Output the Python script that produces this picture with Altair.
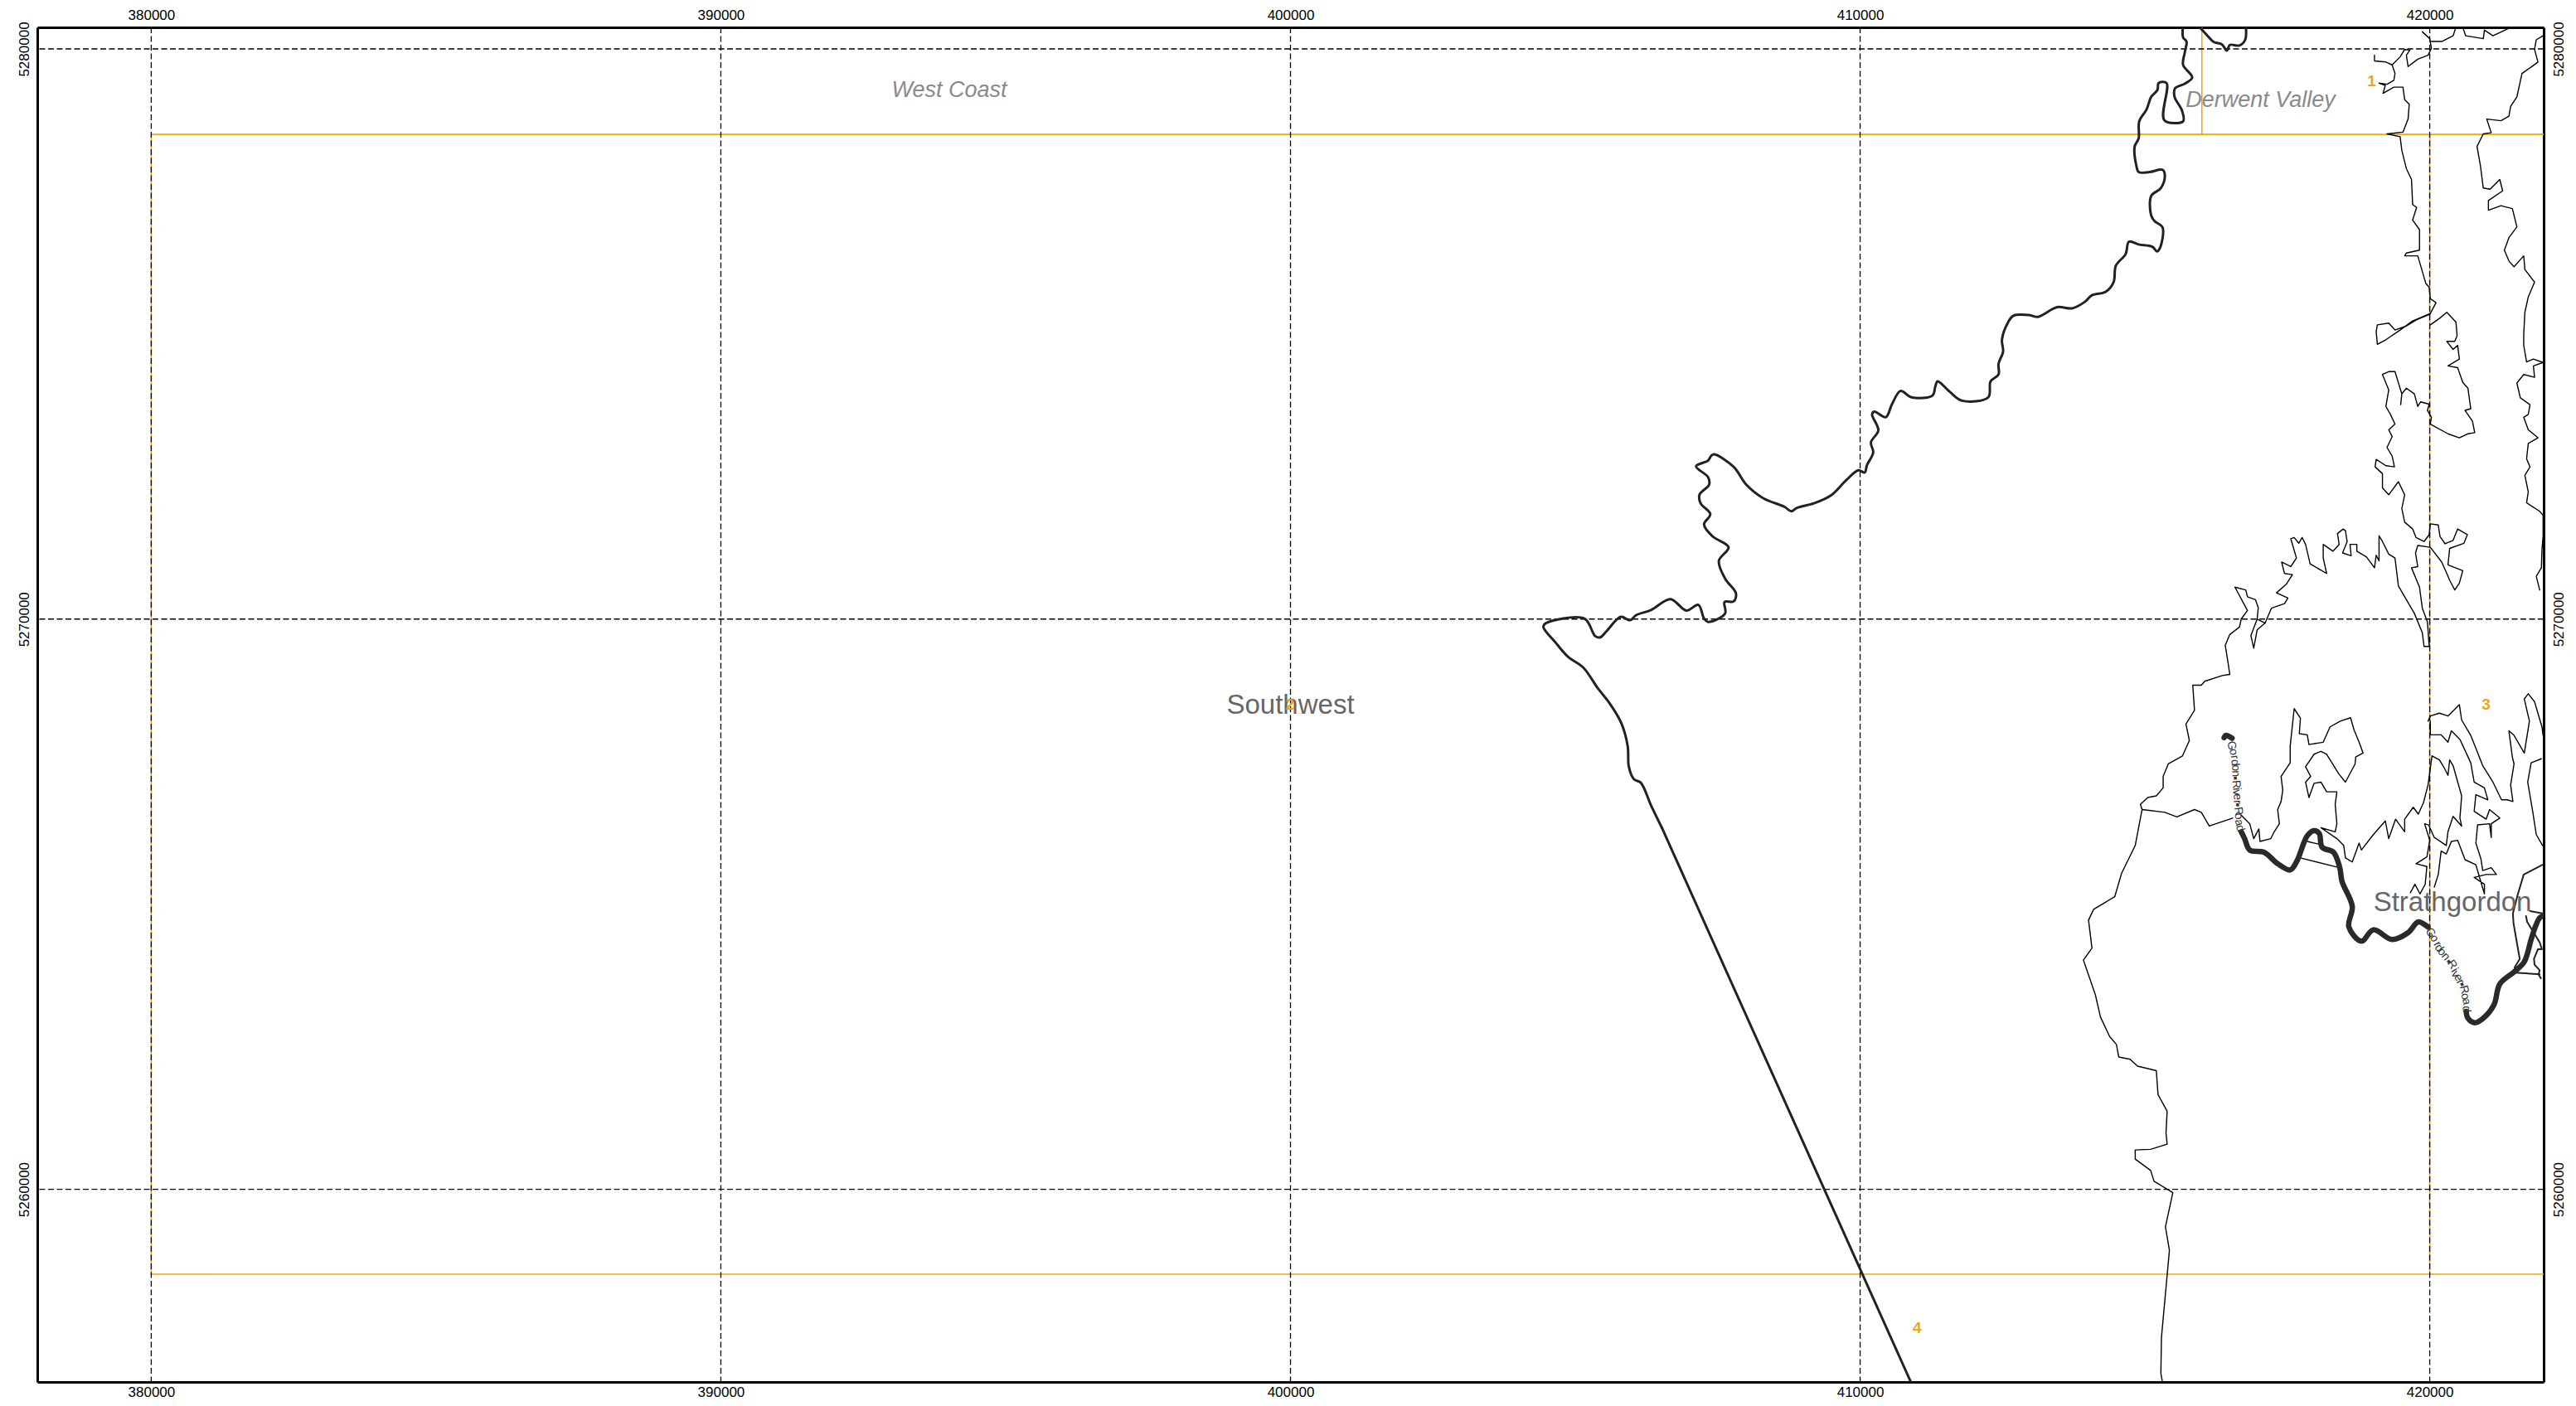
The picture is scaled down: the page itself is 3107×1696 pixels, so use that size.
import altair as alt
import pandas as pd

X_TICKS = [380000, 390000, 400000, 410000, 420000]
Y_TICKS = [5260000, 5270000, 5280000]
X_DOMAIN = [378000, 422000]
Y_DOMAIN = [5256620, 5280378]

# Map lines: (easting km, northing km)
ZONE_LINES = [
    [(380, 5258.51), (380, 5278.50), (422, 5278.50)],
    [(380, 5258.51), (422, 5258.51)],
    [(420, 5278.50), (420, 5258.51)],
    [(416, 5280.5), (416, 5278.50)],
]

BOUNDARY_TOP = [(415.98,5280.36),(416.10,5280.23),(416.21,5280.12),(416.35,5280.08),(416.44,5279.97),(416.49,5280.07),(416.66,5280.06),(416.76,5280.16),(416.77,5280.42)]

BOUNDARY_MAIN = [
 (415.67,5280.42),(415.67,5280.20),(415.73,5280.13),(415.70,5279.94),(415.67,5279.72),(415.83,5279.50),(415.70,5279.39),(415.53,5279.31),(415.52,5279.16),(415.65,5278.92),(415.67,5278.73),(415.34,5278.75),(415.38,5279.40),(415.24,5279.40),(415.22,5279.28),(415.11,5279.16),(415.03,5278.94),(414.90,5278.73),(414.89,5278.43),(414.82,5278.29),(414.85,5277.95),(414.89,5277.84),(415.08,5277.84),(415.31,5277.88),(415.35,5277.78),(415.28,5277.56),(415.11,5277.42),(415.11,5277.08),(415.17,5276.98),(415.31,5276.87),(415.26,5276.50),(415.21,5276.45),(415.13,5276.53),(414.89,5276.57),(414.72,5276.62),(414.66,5276.40),(414.49,5276.20),(414.45,5275.91),
 (414.31,5275.74),(414.07,5275.68),(413.94,5275.56),(413.72,5275.45),(413.46,5275.47),(413.12,5275.30),(412.98,5275.33),(412.69,5275.32),(412.60,5275.21),(412.49,5274.90),(412.51,5274.69),(412.43,5274.48),(412.43,5274.29),(412.29,5274.17),(412.25,5273.89),(411.79,5273.83),(411.57,5273.99),(411.36,5274.17),(411.32,5274.08),(411.27,5273.92),(410.90,5273.89),(410.71,5274.00),(410.56,5273.77),(410.45,5273.54),(410.25,5273.64),(410.21,5273.59),(410.32,5273.31),(410.19,5273.10),(410.23,5272.92),(410.12,5272.70),(410.08,5272.57),(409.97,5272.61),(409.75,5272.43),(409.49,5272.17),(409.19,5272.03),(408.89,5271.95),(408.79,5271.89),(408.67,5271.97),(408.30,5272.12),(408.00,5272.36),(407.78,5272.67),(407.44,5272.89),(407.39,5272.87),(407.33,5272.78),(407.12,5272.68),(407.33,5272.49),(407.35,5272.36),(407.18,5272.18),(407.20,5272.03),(407.37,5271.84),(407.26,5271.66),(407.41,5271.45),(407.69,5271.26),(407.52,5271.02),(407.63,5270.71),(407.82,5270.45),(407.78,5270.31),(407.62,5270.30),(407.63,5270.10),(407.33,5269.95),(407.26,5270.01),(407.16,5270.25),(406.95,5270.15),(406.67,5270.35),(406.33,5270.16),(406.07,5270.07),(405.96,5269.98),(405.80,5270.04),(405.55,5269.79),(405.44,5269.68),(405.35,5269.70),(405.16,5270.01),(404.47,5269.92),(404.44,5269.86),(404.66,5269.58),(404.87,5269.34),(405.14,5269.15),(405.40,5268.78),(405.59,5268.54),(405.81,5268.17),(405.92,5267.77),(405.94,5267.41),(406.03,5267.19),(406.15,5267.13),(406.33,5266.73),(406.52,5266.34)]

BOUNDARY_STRAIGHT = [(406.52,5266.34),(410.89,5256.62)]

ROAD_WEST = [(416.69,5266.27),(416.75,5266.15),(416.84,5265.95),(417.09,5265.91),(417.33,5265.71),(417.55,5265.60),(417.67,5265.76),(417.85,5266.20),(417.97,5266.29),(418.06,5266.24),(418.11,5266.00),(418.31,5265.91),(418.42,5265.64),(418.46,5265.40),(418.64,5264.96),(418.58,5264.60),(418.80,5264.35),(419.01,5264.55),(419.34,5264.38),(419.62,5264.50),(419.80,5264.69),(419.97,5264.60)]
ROAD_EAST = [(420.64,5263.12),(420.67,5263.00),(420.79,5262.92),(420.94,5263.00),(421.13,5263.24),(421.23,5263.60),(421.49,5263.82),(421.66,5263.99),(421.78,5264.38),(421.86,5264.62),(421.93,5264.76),(421.99,5264.80),(422.2,5264.85)]
ROAD_STUB = [(416.39,5267.92),(416.42,5267.96),(416.53,5267.91)]

MINOR_DARK = [
 [(421.98,5265.69),(421.65,5265.52),(421.54,5265.15),(421.46,5264.84),(421.47,5264.67),(421.52,5264.38),(421.58,5264.04),(421.49,5263.89),(421.49,5263.80),(421.93,5263.77)],
 [(421.76,5264.88),(421.98,5264.84)],
 [(421.69,5264.79),(421.71,5264.69),(421.93,5264.33),(421.97,5264.21),(421.90,5264.21),(421.83,5264.04),(421.84,5263.94),(421.93,5263.84),(421.91,5263.77),(421.95,5263.70)],
]

CREEK_1 = [(419.87,5280.30),(420.00,5280.18),(420.03,5280.01),(419.97,5279.89),(419.79,5279.82),(419.62,5279.69),(419.59,5279.89),(419.65,5279.98),(419.56,5279.99),(419.48,5279.86),(419.34,5279.72),(419.23,5279.77),(419.03,5279.79),(419.03,5279.89)]
CREEK_2 = [(419.34,5279.72),(419.39,5279.57),(419.37,5279.45),(419.25,5279.38),(419.11,5279.40),(419.22,5279.36),(419.18,5279.22),(419.37,5279.33),(419.53,5279.33),(419.56,5279.11),(419.64,5279.03),(419.62,5278.77),(419.53,5278.54),(419.25,5278.51),(419.48,5278.46),(419.51,5278.22),(419.59,5277.90),(419.68,5277.71),(419.70,5277.27),(419.77,5277.22),(419.70,5277.00),(419.82,5276.83),(419.82,5276.47),(419.59,5276.42),(419.56,5276.37),(419.79,5276.37),(419.84,5276.20),(419.93,5275.89),(419.99,5275.82),(420.01,5275.62),(420.11,5275.55),(420.01,5275.36),(419.70,5275.23),(419.48,5275.07),(419.23,5274.90),(419.08,5274.82),(419.06,5275.04),(419.08,5275.16),(419.28,5275.19),(419.39,5275.07),(419.59,5275.14),(419.79,5275.26),(420.01,5275.35)]
CREEK_3 = [(420.03,5280.13),(420.21,5280.13),(420.41,5280.23),(420.46,5280.38)]
CREEK_4 = [(420.58,5280.38),(420.63,5280.23),(420.94,5280.18),(420.96,5280.33),(421.11,5280.23),(421.39,5280.36)]
CREEK_5 = [(421.99,5280.23),(421.87,5280.16),(421.84,5279.99),(421.90,5279.77),(421.79,5279.69),(421.62,5279.57),(421.53,5279.16),(421.42,5278.99),(421.39,5278.82),(421.25,5278.74),(421.00,5278.77),(421.08,5278.53),(420.94,5278.51),(420.83,5278.29),(420.89,5277.95),(420.94,5277.56),(421.06,5277.54),(421.23,5277.71),(421.28,5277.51),(421.03,5277.34),(421.03,5277.17),(421.25,5277.25),(421.45,5277.20),(421.53,5276.88),(421.39,5276.69),(421.31,5276.47),(421.39,5276.28),(421.48,5276.18),(421.65,5276.37),(421.67,5276.13),(421.84,5275.91),(421.73,5275.65),(421.67,5275.38),(421.65,5274.99),(421.65,5274.80),(421.70,5274.51),(421.82,5274.56),(421.99,5274.50),(421.82,5274.44),(421.84,5274.24),(421.65,5274.29),(421.53,5274.14),(421.59,5273.88),(421.76,5273.76),(421.73,5273.59),(421.65,5273.54),(421.73,5273.32),(421.90,5273.18),(421.73,5273.08),(421.70,5272.81),(421.76,5272.67),(421.67,5272.52),(421.73,5272.23),(421.70,5272.04),(421.93,5271.89),(421.99,5271.82),(421.99,5271.46),(421.97,5271.21),(421.96,5270.90),(421.87,5270.75),(421.93,5270.51)]
CREEK_6 = [(420.01,5275.16),(420.18,5275.28),(420.30,5275.38),(420.46,5275.21),(420.48,5274.97),(420.44,5274.87),(420.30,5274.87),(420.41,5274.73),(420.49,5274.80),(420.52,5274.56),(420.32,5274.44),(420.49,5274.41),(420.58,5274.15),(420.67,5274.05),(420.72,5273.69),(420.62,5273.66),(420.75,5273.47),(420.79,5273.27),(420.67,5273.25),(420.52,5273.18),(420.32,5273.25),(420.01,5273.42),(420.03,5273.54),(419.96,5273.66),(419.99,5273.77),(419.84,5273.81),(419.79,5273.73),(419.73,5273.95),(419.59,5274.05),(419.51,5273.95),(419.49,5273.76),(419.51,5273.95),(419.39,5274.34),(419.28,5274.34),(419.17,5274.29),(419.28,5274.02),(419.23,5273.73),(419.31,5273.59),(419.39,5273.42),(419.28,5273.32),(419.34,5273.20),(419.25,5273.01),(419.34,5272.86),(419.38,5272.67),(419.23,5272.69),(419.06,5272.80),(419.04,5272.67),(419.17,5272.55),(419.17,5272.30),(419.28,5272.18),(419.45,5272.41),(419.56,5272.18),(419.51,5271.94),(419.56,5271.70),(419.70,5271.58),(419.76,5271.43),(419.90,5271.36),(419.99,5271.48),(420.01,5271.67),(420.15,5271.65),(420.18,5271.45),(420.27,5271.32),(420.41,5271.38),(420.49,5271.58),(420.66,5271.48),(420.60,5271.33),(420.35,5271.24),(420.32,5270.95),(420.58,5270.85),(420.52,5270.63),(420.44,5270.51),(420.35,5270.68),(420.30,5270.80),(420.21,5271.00),(420.01,5271.26),(419.79,5271.29),(419.75,5271.16),(419.79,5270.92),(419.68,5270.90),(419.82,5270.56),(419.87,5270.19),(419.96,5269.95),(419.99,5269.52),(419.90,5269.52),(419.87,5269.76),(419.73,5270.10),(419.45,5270.58),(419.39,5271.07),(419.28,5271.14),(419.17,5271.36),(419.11,5271.46),(419.11,5271.02),(419.06,5271.12),(419.03,5270.90),(418.89,5271.09),(418.72,5271.19),(418.72,5271.31),(418.60,5271.31),(418.62,5271.11),(418.47,5271.16),(418.55,5271.36),(418.52,5271.55),(418.48,5271.58),(418.38,5271.50),(418.41,5271.31),(418.30,5271.19),(418.13,5271.31),(418.13,5271.07),(418.19,5270.80),(417.90,5270.97),(417.82,5271.31),(417.76,5271.43),(417.70,5271.33),(417.62,5271.43),(417.56,5271.41),(417.66,5271.07),(417.56,5270.92),(417.40,5271.00),(417.45,5270.80),(417.59,5270.78),(417.48,5270.61),(417.31,5270.46),(417.51,5270.37),(417.45,5270.27),(417.22,5270.19),(417.11,5269.93),(416.97,5270.00),(416.99,5270.20),(416.94,5270.34),(416.80,5270.39),(416.77,5270.51),(416.58,5270.56),(416.80,5270.15),(416.69,5270.00),(416.66,5269.86),(416.49,5269.73),(416.41,5269.54),(416.46,5269.23)]
CREEK_LOBE = [(416.97,5270.00),(416.86,5269.71),(416.91,5269.49),(416.97,5269.81),(417.11,5269.93)]
WATERSHED = [(416.46,5269.23),(416.49,5269.03),(416.36,5269.01),(416.05,5268.91),(415.99,5268.84),(415.84,5268.84),(415.87,5268.40),(415.72,5268.16),(415.78,5267.87),(415.66,5267.60),(415.41,5267.46),(415.32,5267.24),(415.32,5267.04),(415.20,5266.90),(415.05,5266.87),(414.92,5266.75),(414.95,5266.66),(414.83,5266.03),(414.59,5265.54),(414.47,5265.13),(414.10,5264.91),(414.01,5264.72),(414.07,5264.23),(413.92,5264.02),(414.13,5263.41),(414.22,5263.02),(414.38,5262.68),(414.50,5262.54),(414.54,5262.32),(414.74,5262.28),(414.87,5262.16),(415.20,5262.08),(415.23,5261.66),(415.39,5261.37),(415.37,5260.99),(415.39,5260.79),(415.10,5260.70),(414.83,5260.69),(414.83,5260.53),(415.10,5260.33),(415.16,5260.14),(415.49,5259.94),(415.36,5259.34),(415.43,5258.93),(415.29,5257.40),(415.28,5256.77),(415.31,5256.60)]
BRANCH = [(414.95,5266.66),(415.35,5266.61),(415.56,5266.53),(415.87,5266.66),(415.99,5266.61),(416.13,5266.37),(416.54,5266.51)]
LINK_1 = [(417.85,5266.10),(418.06,5266.05)]
LINK_2 = [(417.73,5265.81),(418.37,5265.65)]
CREEK_7 = [(416.69,5266.56),(416.84,5266.41),(416.91,5266.15),(417.00,5266.32),(417.02,5266.10),(417.21,5266.15),(417.27,5266.27),(417.36,5266.41),(417.33,5266.66),(417.39,5266.80),(417.42,5267.00),(417.39,5267.24),(417.55,5267.48),(417.55,5267.77),(417.62,5268.43),(417.73,5268.26),(417.71,5267.99),(417.85,5267.97),(417.88,5267.80),(418.13,5267.84),(418.25,5268.11),(418.43,5268.21),(418.61,5268.27),(418.67,5268.06),(418.76,5267.84),(418.83,5267.65),(418.70,5267.58),(418.69,5267.46),(418.52,5267.14),(418.40,5267.29),(418.19,5267.63),(418.09,5267.68),(417.97,5267.63),(417.82,5267.41),(417.91,5267.24),(417.82,5267.14),(417.88,5266.87),(417.97,5267.12),(418.09,5267.14),(418.19,5266.97),(418.37,5266.97),(418.34,5266.75),(418.37,5266.41),(418.34,5266.27),(418.09,5266.34),(418.37,5266.15),(418.49,5266.03),(418.52,5265.81),(418.64,5265.74),(418.76,5266.07),(418.80,5265.95),(419.01,5266.22),(419.22,5266.46),(419.28,5266.15),(419.40,5266.49),(419.56,5266.27),(419.56,5266.49),(419.71,5266.70),(419.80,5266.58),(419.89,5266.78),(419.97,5267.09),(420.04,5267.60)]
CREEK_8 = [(420.04,5267.60),(420.17,5267.53),(420.26,5267.38),(420.32,5267.26),(420.35,5267.53),(420.41,5267.43),(420.56,5266.90),(420.53,5266.51),(420.56,5266.37),(420.41,5266.54),(420.32,5266.27),(420.29,5266.03),(420.08,5266.17),(419.98,5266.39),(419.91,5266.41),(420.00,5266.12),(419.95,5265.83),(419.76,5265.71),(419.95,5265.66),(419.92,5265.35),(419.83,5265.18),(419.74,5265.35),(419.66,5265.20)]
CREEK_9 = [(419.97,5268.21),(420.01,5268.30),(420.17,5268.35),(420.32,5268.30),(420.52,5268.50),(420.56,5268.23),(420.72,5267.96),(420.93,5267.43),(421.11,5267.14),(421.26,5266.83),(421.36,5266.83),(421.46,5266.80),(421.42,5267.09),(421.48,5267.46),(421.45,5267.58),(421.39,5268.04),(421.48,5267.96),(421.66,5267.65),(421.75,5268.21),(421.66,5268.60),(421.73,5268.69),(421.84,5268.55),(421.97,5268.11),(421.99,5267.96)]
CREEK_10 = [(420.01,5268.21),(420.01,5267.97),(420.20,5267.97),(420.32,5267.84),(420.38,5268.04),(420.53,5267.89),(420.72,5267.48),(420.78,5267.14),(420.96,5267.04),(421.02,5266.83),(420.81,5266.92),(420.78,5266.63),(420.99,5266.49),(421.05,5266.66),(421.23,5266.51),(421.08,5266.41),(421.08,5266.17),(421.05,5266.41),(420.84,5266.39),(420.81,5266.07),(420.90,5265.79),(420.93,5265.59),(421.08,5265.64),(421.17,5265.52),(420.99,5265.52),(420.78,5265.47),(420.96,5265.35),(420.96,5265.18),(420.81,5265.69),(420.62,5265.78),(420.49,5266.12),(420.38,5266.10),(420.29,5265.88),(420.20,5265.93),(420.15,5265.52),(420.08,5265.30)]
CREEK_11 = [(421.96,5267.55),(421.78,5267.48),(421.72,5267.14),(421.81,5266.61),(421.87,5266.22),(421.98,5266.03)]

THIN_PATHS = [CREEK_1, CREEK_2, CREEK_3, CREEK_4, CREEK_5, CREEK_6, CREEK_LOBE, WATERSHED, BRANCH,
              LINK_1, LINK_2, CREEK_7, CREEK_8, CREEK_9, CREEK_10, CREEK_11]

# Road name, letter by letter along the road
ROAD_CHARS = list("Gordon\u25aaRiver\u25aaRoad")
ROAD_LABEL_WEST = [(416.52,5267.78),(416.55,5267.67),(416.57,5267.58),(416.58,5267.48),(416.59,5267.39),(416.59,5267.29),(416.58,5267.21),(416.60,5267.10),(416.61,5267.02),(416.61,5266.96),(416.62,5266.88),(416.62,5266.79),(416.62,5266.74),(416.64,5266.63),(416.64,5266.54),(416.65,5266.43),(416.67,5266.33)]
ROAD_ANGLES_WEST = [80,80,82,85,88,88,85,85,85,88,88,88,85,82,80,75,72]
ROAD_LABEL_EAST = [(420.01,5264.50),(420.08,5264.40),(420.13,5264.30),(420.16,5264.23),(420.21,5264.16),(420.28,5264.08),(420.33,5263.99),(420.39,5263.94),(420.43,5263.84),(420.45,5263.77),(420.50,5263.71),(420.53,5263.64),(420.56,5263.59),(420.60,5263.50),(420.62,5263.38),(420.64,5263.29),(420.64,5263.16)]
ROAD_ANGLES_EAST = [55,55,60,55,50,50,50,55,60,60,60,60,65,75,75,80,85]

# Place labels: text, easting km, baseline northing km
PLACE_MAJOR = [("Southwest", 400.0, 5268.34), ("Strathgordon", 420.40, 5264.88)]
PLACE_MINOR = [("West Coast", 394.01, 5279.15), ("Derwent Valley", 417.03, 5278.98)]
ZONE_IDS = [("1", 418.98, 5279.43), ("2", 399.99, 5268.50), ("3", 420.99, 5268.50), ("4", 411.00, 5257.57)]

ORANGE = "#EFA60F"
SANS = "Liberation Sans"


def paths(groups):
    rows = []
    for g, pts in enumerate(groups):
        for i, (e, n) in enumerate(pts):
            rows.append({"e": e * 1000, "n": n * 1000, "g": g, "i": i})
    return pd.DataFrame(rows)


xs = alt.Scale(domain=X_DOMAIN, nice=False, zero=False)
ys = alt.Scale(domain=Y_DOMAIN, nice=False, zero=False)


def X(axis=None):
    return alt.X("e:Q", scale=xs, axis=axis, title=None)


def Y(axis=None):
    return alt.Y("n:Q", scale=ys, axis=axis, title=None)


def axis(orient, values, **kw):
    return alt.Axis(orient=orient, values=values, title=None, grid=False, ticks=False, format="d",
                    domain=True, domainColor="black", domainWidth=3, labelFont=SANS, labelFontSize=17,
                    labelColor="black", labelOverlap=False, labelFlush=False, labelBound=False, **kw)


def lines(groups, width, color="black", interpolate="linear", x_axis=None, y_axis=None):
    return alt.Chart(paths(groups)).mark_line(
        stroke=color, strokeWidth=width, clip=True, interpolate=interpolate, strokeJoin="round", strokeCap="round"
    ).encode(x=X(x_axis), y=Y(y_axis), detail="g:N", order="i:Q")


zones = lines(ZONE_LINES, 1.6, ORANGE,
              x_axis=axis("bottom", X_TICKS, labelPadding=4),
              y_axis=axis("left", Y_TICKS, labelAngle=270, labelAlign="center", labelBaseline="bottom", labelPadding=7))

grid_x = alt.Chart(pd.DataFrame({"e": X_TICKS})).mark_rule(
    stroke="black", strokeWidth=1.3, strokeDash=[7, 3.5]).encode(x=X())
grid_y = alt.Chart(pd.DataFrame({"n": Y_TICKS})).mark_rule(
    stroke="black", strokeWidth=1.3, strokeDash=[7, 3.5]).encode(y=Y())

thin = lines(THIN_PATHS, 1.4)
dark = lines(MINOR_DARK, 2, "#222222")
bound = lines([BOUNDARY_TOP, BOUNDARY_MAIN], 3, "#222222", "catmull-rom")
straight = lines([BOUNDARY_STRAIGHT], 3, "#222222")
road = lines([ROAD_WEST, ROAD_EAST, ROAD_STUB], 6.5, "#2a2a2a", "catmull-rom")


def texts(rows, color, font, size, style="normal", weight="normal", baseline="alphabetic"):
    df = pd.DataFrame(rows, columns=["t", "e", "n"])
    df["e"] *= 1000
    df["n"] *= 1000
    return alt.Chart(df).mark_text(color=color, font=font, fontSize=size, fontStyle=style, fontWeight=weight,
                                   align="center", baseline=baseline).encode(x=X(), y=Y(), text="t:N")


major = texts(PLACE_MAJOR, "#666666", SANS, 33)
minor = texts(PLACE_MINOR, "#8a8a8a", SANS, 27, style="italic")
ids = texts(ZONE_IDS, ORANGE, SANS, 19, weight="bold", baseline="middle")

rows = []
for pts, angs in ((ROAD_LABEL_WEST, ROAD_ANGLES_WEST), (ROAD_LABEL_EAST, ROAD_ANGLES_EAST)):
    for c, (e, n), a in zip(ROAD_CHARS, pts, angs):
        rows.append({"t": c, "e": e * 1000, "n": n * 1000, "a": a})
road_text = alt.Chart(pd.DataFrame(rows)).mark_text(
    color="#333333", font=SANS, fontSize=14, align="center", baseline="middle"
).encode(x=X(), y=Y(), text="t:N", angle=alt.Angle("a:Q", scale=None))

top_right = alt.Chart(pd.DataFrame({"e": [X_DOMAIN[0]], "n": [Y_DOMAIN[0]]})).mark_point(opacity=0).encode(
    x=X(axis("top", X_TICKS, labelPadding=6)),
    y=Y(axis("right", Y_TICKS, labelAngle=270, labelAlign="center", labelBaseline="top", labelPadding=10)),
)

chart = alt.layer(zones, grid_x, grid_y, thin, dark, bound, straight, road, road_text, major, minor, ids, top_right
                  ).resolve_axis(x="independent", y="independent").properties(
    width=3023, height=1634,
    padding={"left": 37, "top": 25, "right": 27, "bottom": 21},
    autosize=alt.AutoSizeParams(type="none"),
    background="white",
).configure_view(stroke=None)

chart.save("out.html", embed_options={"renderer": "svg", "actions": False})
